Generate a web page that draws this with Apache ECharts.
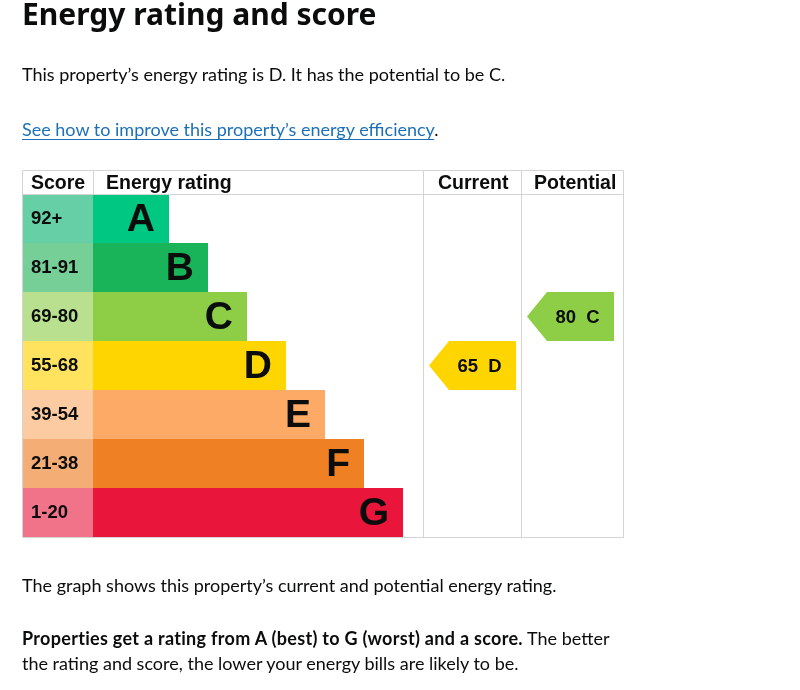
<!DOCTYPE html>
<html>
<head>
<meta charset="utf-8">
<script src="https://cdn.jsdelivr.net/npm/echarts@6/dist/echarts.min.js"></script>
<style>
  html, body { margin: 0; padding: 0; background: #fff; }
  #page { position: relative; width: 800px; height: 690px; overflow: hidden; font-family: Lato, "Noto Sans", sans-serif; color: #0b0c0c; }
  #charts { position: absolute; left: 0; top: 0; width: 800px; height: 690px; }
  .txt { position: absolute; left: 22px; font-size: 18px; line-height: 25px; white-space: nowrap; }
  h1 { position: absolute; left: 22px; top: -1px; margin: 0; font-family: "Noto Sans", sans-serif; font-size: 30px; font-weight: 700; line-height: 30px; }
  a { color: #1d70b8; text-decoration: underline; text-underline-offset: 3px; }
</style>
</head>
<body>
<div id="page">
  <div id="charts"></div>
  <h1>Energy rating and score</h1>
  <div class="txt" style="top:62px">This property’s energy rating is D. It has the potential to be C.</div>
  <div class="txt" style="top:117px"><a href="#">See how to improve this property’s energy efficiency</a>.</div>
  <div class="txt" style="top:573px">The graph shows this property’s current and potential energy rating.</div>
  <div class="txt" style="top:626px"><b style="letter-spacing:0.3px">Properties get a rating from A (best) to G (worst) and a score.</b> The better<br>the rating and score, the lower your energy bills are likely to be.</div>
</div>
<script>
// bands, top (best) to bottom (worst)
var bands = ['A', 'B', 'C', 'D', 'E', 'F', 'G'];
var scoreRanges = ['92+', '81-91', '69-80', '55-68', '39-54', '21-38', '1-20'];
var bandColors = ['#00c781', '#19b459', '#8dce46', '#ffd500', '#fcaa65', '#ef8023', '#e9153b'];
var scoreColors = ['#66cfa6', '#75cf97', '#b9e08f', '#ffe35f', '#fdcba1', '#f4ae75', '#f0738a'];
var barLength = [76, 115, 154, 193, 232, 271, 310];
var headers = ['Score', 'Energy rating', 'Current', 'Potential'];
// current and potential: [score, band]
var currentRating = [65, 'D'];
var potentialRating = [80, 'C'];

// table columns in axis units (px from the table's left edge)
var scoreCol = 71;
var ratingColEnd = 401;
var currentCol = [401, 499];
var potentialCol = [499, 601];
var border = '#d4d4d4';
var gLeft = 22, gTop = 194, gWidth = 601, gHeight = 343, headH = 24;
var headFont = 'bold 19.5px "Liberation Sans", Arial';

function arrowItem(rating, col) {
    return [bands.indexOf(rating[1]), rating[0], col[0]];
}

function vline(x, y1, y2) {
    return { type: 'line', shape: { x1: x + 0.5, y1: y1, x2: x + 0.5, y2: y2 }, style: { stroke: border, lineWidth: 1 }, z: 10 };
}

var myChart = echarts.init(document.getElementById('charts'));
var option = {
    animation: false,
    grid: { left: gLeft, top: gTop, width: gWidth, height: gHeight },
    xAxis: { type: 'value', min: 0, max: gWidth, show: false },
    yAxis: { type: 'category', data: bands, inverse: true, show: false },
    graphic: [
        { type: 'rect', shape: { x: gLeft + 0.5, y: gTop - headH + 0.5, width: gWidth, height: gHeight + headH }, style: { fill: 'none', stroke: border, lineWidth: 1 }, z: 10 },
        { type: 'line', shape: { x1: gLeft, y1: gTop + 0.5, x2: gLeft + gWidth, y2: gTop + 0.5 }, style: { stroke: border, lineWidth: 1 }, z: 10 },
        vline(gLeft + scoreCol, gTop - headH, gTop),
        vline(gLeft + ratingColEnd, gTop - headH, gTop + gHeight),
        vline(gLeft + currentCol[1], gTop - headH, gTop + gHeight),
        { type: 'text', x: gLeft + 9, y: gTop - headH + 4, style: { text: headers[0], font: headFont, fill: '#0b0c0c' } },
        { type: 'text', x: gLeft + scoreCol + 13, y: gTop - headH + 4, style: { text: headers[1], font: headFont, fill: '#0b0c0c' } },
        { type: 'text', x: gLeft + currentCol[0] + 15, y: gTop - headH + 4, style: { text: headers[2], font: headFont, fill: '#0b0c0c' } },
        { type: 'text', x: gLeft + currentCol[1] + 13, y: gTop - headH + 4, style: { text: headers[3], font: headFont, fill: '#0b0c0c' } }
    ],
    series: [{
        name: 'Score',
        type: 'bar',
        stack: 'band',
        barWidth: '100%',
        data: bands.map(function (b, i) {
            return { value: scoreCol, itemStyle: { color: scoreColors[i] } };
        }),
        label: {
            show: true,
            position: 'insideLeft',
            distance: 9,
            formatter: function (p) { return scoreRanges[p.dataIndex]; },
            fontFamily: '"Liberation Sans", Arial',
            fontWeight: 'bold',
            fontSize: 18.5,
            color: '#0b0c0c'
        }
    }, {
        name: 'Energy rating',
        type: 'bar',
        stack: 'band',
        barWidth: '100%',
        data: bands.map(function (b, i) {
            return { value: barLength[i], itemStyle: { color: bandColors[i] } };
        }),
        label: {
            show: true,
            position: 'insideRight',
            distance: 14,
            formatter: function (p) { return bands[p.dataIndex]; },
            fontFamily: '"Liberation Sans", Arial',
            fontWeight: 'bold',
            fontSize: 39,
            color: '#0b0c0c',
            offset: [0, 2]
        }
    }, {
        name: 'Rating arrows',
        type: 'custom',
        data: [arrowItem(currentRating, currentCol), arrowItem(potentialRating, potentialCol)],
        renderItem: function (params, api) {
            var row = api.value(0);
            var c0 = api.coord([api.value(2), row]);
            var h = api.size([0, 1])[1];
            var cy = c0[1];
            var x0 = c0[0] + 6, xs = x0 + 20, x1 = x0 + 87;
            var y0 = cy - h / 2, y1 = cy + h / 2;
            return {
                type: 'group',
                children: [{
                    type: 'polygon',
                    shape: { points: [[x0, cy], [xs, y0], [x1, y0], [x1, y1], [xs, y1]] },
                    style: { fill: bandColors[row] }
                }, {
                    type: 'text',
                    style: {
                        text: api.value(1) + '  ' + bands[row],
                        x: (xs + x1) / 2 - 3,
                        y: cy + 1,
                        align: 'center',
                        verticalAlign: 'middle',
                        font: 'bold 18.5px "Liberation Sans", Arial',
                        fill: '#0b0c0c'
                    }
                }]
            };
        }
    }]
};
myChart.setOption(option);
</script>
</body>
</html>
